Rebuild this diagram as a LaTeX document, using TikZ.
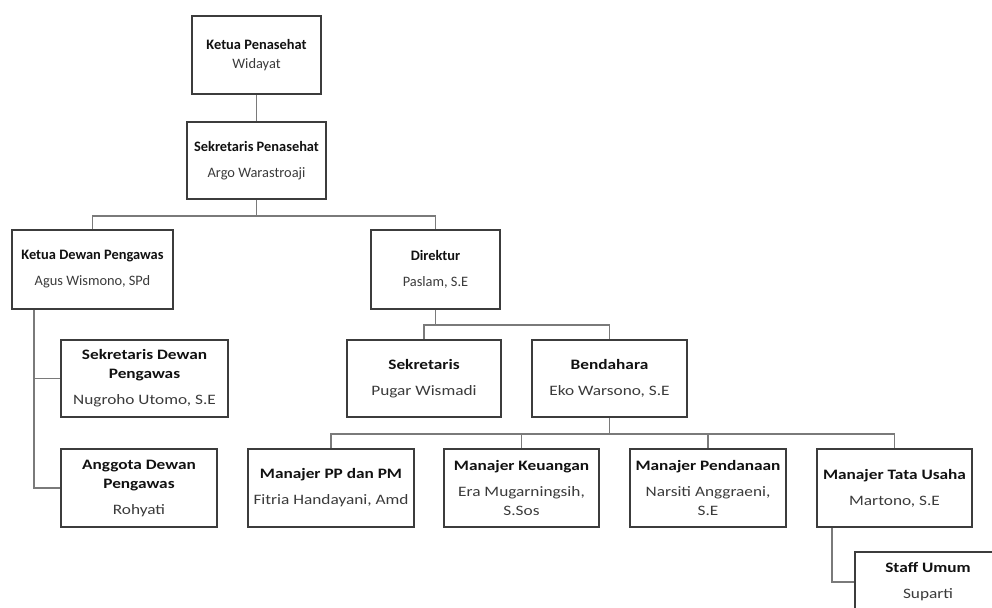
\documentclass[tikz,border=0pt]{standalone}
\usepackage{fontspec}
\setmainfont{Carlito}
\newfontfamily\widefont[FakeStretch=1.2]{Carlito}
\usetikzlibrary{calc}
\definecolor{boxc}{HTML}{3C3C3C}
\definecolor{linec}{HTML}{7A7A7A}
\definecolor{namec}{HTML}{3A3A3A}
\definecolor{titlec}{HTML}{111111}
\newcommand{\ttl}[1]{{\bfseries\color{titlec}#1}}
\newcommand{\nm}[1]{{\color{namec}#1}}
\begin{document}
\begin{tikzpicture}[x=1pt,y=-1pt,
  orgbox/.style={draw=boxc, line width=2.1pt, inner sep=0pt, align=center,
    minimum height=78pt, font=\fontsize{14.4}{19}\selectfont},
  widebox/.style={orgbox, font=\widefont\fontsize{14.4}{19}\selectfont},
  conn/.style={draw=linec, line width=1.6pt}]
\useasboundingbox (0,0) rectangle (992,607);
\clip (0,0) rectangle (992,607);
% boxes
\node[orgbox, minimum width=129pt] (kp) at (256.5,55) {\ttl{Ketua Penasehat}\\\nm{Widayat}};
\node[orgbox, minimum width=139pt, minimum height=77pt] (sp) at (256.5,160.5) {\ttl{Sekretaris Penasehat}\\[7pt]\nm{Argo Warastroaji}};
\node[orgbox, minimum width=161pt, minimum height=79pt] (kdp) at (92.5,269.5) {\ttl{Ketua Dewan Pengawas}\\[7pt]\nm{Agus Wismono, SPd}};
\node[orgbox, minimum width=129pt, minimum height=79pt] (dir) at (435.5,269.5) {\ttl{Direktur}\\[7pt]\nm{Paslam, S.E}};
\node[widebox, minimum width=167pt, minimum height=77pt] (sdp) at (144.5,378.5) {\ttl{Sekretaris Dewan}\\\ttl{Pengawas}\\[7pt]\nm{Nugroho Utomo, S.E}};
\node[widebox, minimum width=156pt] (adp) at (139,488) {\ttl{Anggota Dewan}\\\ttl{Pengawas}\\[7pt]\nm{Rohyati}};
\node[widebox, minimum width=154pt, minimum height=77pt] (sek) at (424,378.5) {\ttl{Sekretaris}\\[7pt]\nm{Pugar Wismadi}};
\node[widebox, minimum width=155pt, minimum height=77pt] (ben) at (609.5,378.5) {\ttl{Bendahara}\\[7pt]\nm{Eko Warsono, S.E}};
\node[widebox, minimum width=166pt] (mpp) at (331,488) {\ttl{Manajer PP dan PM}\\[7pt]\nm{Fitria Handayani, Amd}};
\node[widebox, minimum width=155pt] (mk) at (521.5,488) {\ttl{Manajer Keuangan}\\[7pt]\nm{Era Mugarningsih,}\\\nm{S.Sos}};
\node[widebox, minimum width=156pt] (mpd) at (708,488) {\ttl{Manajer Pendanaan}\\[7pt]\nm{Narsiti Anggraeni,}\\\nm{S.E}};
\node[widebox, minimum width=155pt] (mtu) at (894.5,488) {\ttl{Manajer Tata Usaha}\\[7pt]\nm{Martono, S.E}};
\node[widebox, minimum width=146pt, minimum height=60pt] (su) at (928,582) {\ttl{Staff Umum}\\[7pt]\nm{Suparti}};
% connectors
\draw[conn] (kp.south) -- (sp.north);
\draw[conn] (sp.south) -- ++(0,16) coordinate (b1);
\draw[conn] (kdp.north) |- (b1) -| (dir.north);
\draw[conn] (dir.south) -- ++(0,15) coordinate (b2);
\draw[conn] (sek.north) |- (b2) -| (ben.north);
\draw[conn] (ben.south) -- ++(0,16) coordinate (b3);
\draw[conn] (mpp.north) |- (b3) -| (mtu.north);
\draw[conn] (mk.north) -- (mk.north |- b3);
\draw[conn] (mpd.north) -- (mpd.north |- b3);
\coordinate (lt) at ([xshift=23pt]kdp.south west);
\draw[conn] (lt) |- (adp.west);
\draw[conn] (lt |- sdp.west) -- (sdp.west);
\coordinate (rt) at ([xshift=16pt]mtu.south west);
\draw[conn] (rt) |- (su.west);
\end{tikzpicture}
\end{document}
